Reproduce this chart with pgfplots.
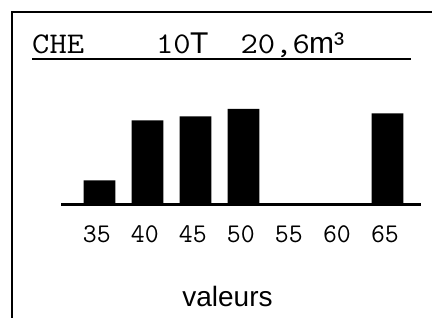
\documentclass[border=0pt]{standalone}
\usepackage{fontspec}
\setmainfont{Liberation Sans}
\usepackage{pgfplots}
\pgfplotsset{compat=1.18}
\usepackage{graphicx}
\begin{document}
\begin{tikzpicture}
\useasboundingbox (0,0) rectangle (432bp,318bp);
% frame (right and bottom sides cut off)
\draw[line width=2bp] (12bp,-5bp) -- (12bp,306bp) -- (440bp,306bp);
% title underline
\draw[line width=2.2bp] (32bp,259.3bp) -- (411bp,259.3bp);
% title
\node[anchor=base west, inner sep=0] at (32bp,264.7bp) {\scalebox{1.12}[1]{\fontsize{30bp}{36bp}\selectfont\ttfamily CHE}};
\node[anchor=base east, inner sep=0] at (191bp,264.7bp) {\scalebox{1.12}[1]{\fontsize{30bp}{36bp}\selectfont\ttfamily 10}};
\node[anchor=base west, inner sep=0] at (190bp,264.7bp) {\fontsize{30bp}{36bp}\selectfont T};
\node[anchor=base east, inner sep=0] at (310bp,264.7bp) {\scalebox{1.12}[1]{\fontsize{30bp}{36bp}\selectfont\ttfamily 20,6}};
\node[anchor=base west, inner sep=0] at (309bp,264.7bp) {\fontsize{30bp}{36bp}\selectfont m³};
% x label
\node[anchor=base, inner sep=0] at (227.5bp,12bp) {\fontsize{28bp}{32bp}\selectfont valeurs};
\begin{axis}[
  at={(61bp,113.5bp)}, anchor=south west,
  scale only axis, width=360bp, height=100bp,
  xmin=31, xmax=68.5, ymin=0, ymax=100,
  axis x line=bottom, axis y line=none,
  x axis line style={-, line width=2.5bp},
  xtick={35,40,45,50,55,60,65},
  xticklabels={35,40,45,50,55,60,65},
  major tick length=0pt,
  ytick=\empty,
  xticklabel style={font=\fontsize{27bp}{30bp}\selectfont\ttfamily, anchor=base, yshift=-38.5bp, xshift=-2.5bp},
  ybar, bar width=31.7bp,
  clip=false,
]
\addplot[fill=black, draw=none] coordinates {(35,24) (40,84) (45,88) (50,95.5) (65,91)};
\end{axis}
\end{tikzpicture}
\end{document}
